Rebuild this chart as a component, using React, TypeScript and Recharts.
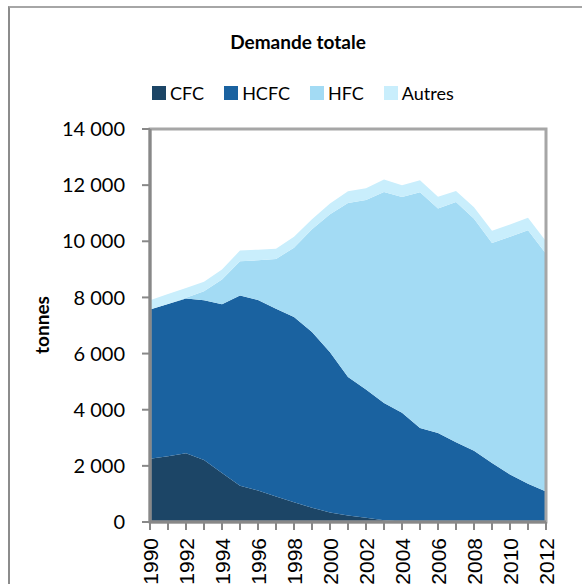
import React from 'react';
import { AreaChart, Area, XAxis, YAxis, Legend, ReferenceArea } from 'recharts';

const years = [1990, 1991, 1992, 1993, 1994, 1995, 1996, 1997, 1998, 1999, 2000, 2001, 2002, 2003, 2004, 2005, 2006, 2007, 2008, 2009, 2010, 2011, 2012];
const cfc = [2250, 2340, 2450, 2210, 1750, 1290, 1120, 910, 700, 510, 340, 235, 150, 60, 20, 0, 0, 0, 0, 0, 0, 0, 0];
const hcfc = [5320, 5430, 5510, 5690, 6010, 6780, 6790, 6690, 6600, 6260, 5710, 4930, 4570, 4180, 3870, 3350, 3170, 2840, 2540, 2100, 1690, 1365, 1090];
const hfc = [0, 0, 30, 320, 880, 1220, 1410, 1770, 2470, 3655, 4910, 6200, 6750, 7520, 7690, 8400, 8000, 8560, 8260, 7840, 8470, 9030, 8470];
const autres = [330, 356, 345, 335, 357, 380, 382, 367, 392, 356, 382, 414, 417, 438, 417, 428, 417, 392, 414, 439, 439, 443, 438];
const yTicks = [0, 2000, 4000, 6000, 8000, 10000, 12000, 14000];

const seriesNames = ['CFC', 'HCFC', 'HFC', 'Autres'];
const colors = ['#1C4566', '#1A62A0', '#A3DBF4', '#C9EEFC'];

const data = years.map((y, i) => ({ year: y, CFC: cfc[i], HCFC: hcfc[i], HFC: hfc[i], Autres: autres[i] }));

const fmt = (v: number) => {
  const s = String(v);
  return s.length > 3 ? s.slice(0, s.length - 3) + '\u00A0' + s.slice(s.length - 3) : s;
};

const XTick = (props: any) => {
  const { x, y, payload } = props;
  if (payload.value % 2 !== 0) return null;
  return (
    <text
      x={x}
      y={y}
      transform={`rotate(-90 ${x} ${y})`}
      textAnchor="end"
      dominantBaseline="central"
      fontFamily="'Liberation Sans', Arial, sans-serif"
      fontSize={21}
      fill="#000"
    >
      {payload.value}
    </text>
  );
};

const LegendContent = (props: any) => {
  const items = [...(props.payload || [])].sort(
    (a: any, b: any) => seriesNames.indexOf(a.value) - seriesNames.indexOf(b.value)
  );
  return (
    <div style={{ display: 'flex', justifyContent: 'flex-start', paddingLeft: 152, fontFamily: 'Lato, sans-serif', fontSize: 18 }}>
      {items.map((p: any, i: number) => (
        <div key={i} style={{ display: 'flex', alignItems: 'center', marginRight: 20 }}>
          <span style={{ display: 'inline-block', width: 14, height: 14, background: p.color, marginRight: 4 }} />
          <span style={{ color: '#000' }}>{p.value}</span>
        </div>
      ))}
    </div>
  );
};

export default function App() {
  return (
    <div style={{ position: 'absolute', left: 0, top: 0, width: 582, height: 584, overflow: 'hidden', background: '#fff' }}>
      <div style={{ position: 'absolute', left: 8, top: 6, width: 700, height: 700, borderLeft: '2px solid #8c8c8c', borderTop: '2px solid #a6a6a6' }} />
      <div style={{ position: 'absolute', left: 0, top: 30, width: 596, textAlign: 'center', fontFamily: 'Lato, sans-serif', fontWeight: 'bold', fontSize: 19, color: '#000' }}>
        Demande totale
      </div>
      <AreaChart width={582} height={584} data={data} margin={{ top: 129, right: 36, bottom: 0, left: 0 }}>
        <Legend
          layout="horizontal"
          verticalAlign="middle"
          align="center"
          wrapperStyle={{ top: 82, left: 0, width: 582 }}
          content={<LegendContent />}
        />
        <XAxis
          dataKey="year"
          interval={0}
          height={62}
          tick={<XTick />}
          tickSize={8}
          tickMargin={8}
          tickLine={{ stroke: '#888', strokeWidth: 2 }}
          axisLine={{ stroke: '#888', strokeWidth: 3 }}
        />
        <YAxis
          width={150}
          domain={[0, 14000]}
          ticks={yTicks}
          interval={0}
          tickFormatter={fmt}
          tickSize={8}
          tickMargin={17}
          tick={{ fontFamily: 'Lato, sans-serif', fontSize: 20, fill: '#000' }}
          tickLine={{ stroke: '#888', strokeWidth: 2 }}
          axisLine={{ stroke: '#888', strokeWidth: 3 }}
          label={{
            content: () => (
              <text x={41} y={325} transform="rotate(-90 41 325)" textAnchor="middle" dominantBaseline="central" fontFamily="Lato, sans-serif" fontWeight="bold" fontSize={19} fill="#000">
                tonnes
              </text>
            ),
          }}
        />
        {seriesNames.map((n, i) => (
          <Area
            key={n}
            type="linear"
            dataKey={n}
            name={n}
            stackId="a"
            stroke="none"
            fill={colors[i]}
            fillOpacity={1}
            isAnimationActive={false}
            dot={false}
            activeDot={false}
          />
        ))}
        <ReferenceArea x1={1990} x2={2012} y1={0} y2={14000} fill="none" stroke="#a6a6a6" strokeWidth={3} ifOverflow="visible" />
      </AreaChart>
    </div>
  );
}
